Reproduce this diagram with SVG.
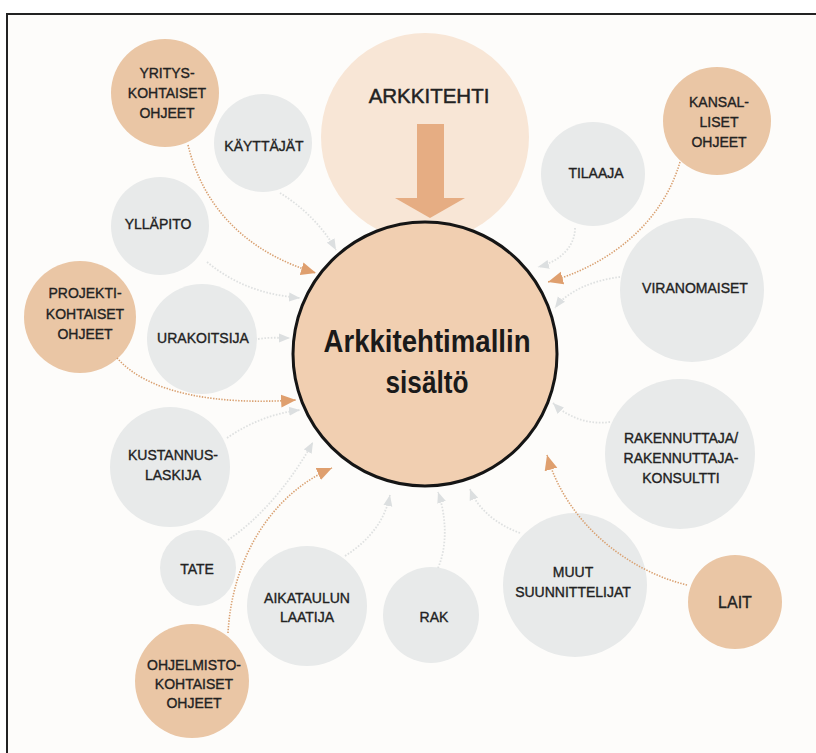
<svg xmlns="http://www.w3.org/2000/svg" width="816" height="753" viewBox="0 0 816 753">
<defs>
<style>
.bg{fill:#fdfcfa;stroke:#222;stroke-width:2}
.o{fill:#eac6a5}
.g{fill:#e8eaea}
.main{fill:#f1cfb1;stroke:#151515;stroke-width:3}
.ark{fill:#f8e6d6}
.t{font-family:"Liberation Sans",Arial,sans-serif;font-size:14px;fill:#222;stroke:#222;stroke-width:0.35;text-anchor:middle}
.big{font-family:"Liberation Sans",Arial,sans-serif;font-size:31px;font-weight:bold;fill:#1a1a1a;text-anchor:middle}
.lo{fill:none;stroke:#d9a070;stroke-width:1.6;stroke-dasharray:1.4 1.4}
.lg{fill:none;stroke:#dfe1e1;stroke-width:1.8;stroke-dasharray:1.6 1.6}
</style>
<marker id="ao" markerUnits="userSpaceOnUse" markerWidth="15" markerHeight="14" viewBox="0 0 15 14" refX="15" refY="7" orient="auto"><path d="M0,0.5 L15,7 L0,13.5 Z" fill="#df9f6e"/></marker>
<marker id="ag" markerUnits="userSpaceOnUse" markerWidth="11" markerHeight="10" viewBox="0 0 11 10" refX="11" refY="5" orient="auto"><path d="M0,0.5 L11,5 L0,9.5 Z" fill="#dcdfe0"/></marker>
</defs>
<rect class="bg" x="7" y="14" width="820" height="750"/>

<g id="n-arkkitehti"><circle class="ark" cx="425" cy="137" r="104"/><text class="t" x="429" y="103" style="font-size:20.5px;stroke-width:0.45">ARKKITEHTI</text></g>
<g id="n-main"><circle class="main" cx="425" cy="354" r="132"/>
<text class="big" x="427" y="352" textLength="207" lengthAdjust="spacingAndGlyphs">Arkkitehtimallin</text>
<text class="big" x="427" y="393" textLength="83" lengthAdjust="spacingAndGlyphs">sisältö</text></g>

<g id="n-yritys"><circle class="o" cx="165" cy="93" r="54"/><text class="t" x="167" y="78">YRITYS-</text><text class="t" x="167" y="98">KOHTAISET</text><text class="t" x="167" y="118">OHJEET</text></g>
<g id="n-kayttajat"><circle class="g" cx="263" cy="143" r="49"/><text class="t" x="264" y="151">KÄYTTÄJÄT</text></g>
<g id="n-yllapito"><circle class="g" cx="160" cy="226" r="49"/><text class="t" x="158" y="229">YLLÄPITO</text></g>
<g id="n-kansal"><circle class="o" cx="717" cy="121" r="54"/><text class="t" x="719" y="107">KANSAL-</text><text class="t" x="719" y="127">LISET</text><text class="t" x="719" y="147">OHJEET</text></g>
<g id="n-tilaaja"><circle class="g" cx="593" cy="174" r="52"/><text class="t" x="596" y="178">TILAAJA</text></g>
<g id="n-viranomaiset"><circle class="g" cx="692" cy="290" r="72"/><text class="t" x="695" y="293">VIRANOMAISET</text></g>
<g id="n-projekti"><circle class="o" cx="80" cy="317" r="56"/><text class="t" x="85" y="298">PROJEKTI-</text><text class="t" x="85" y="319">KOHTAISET</text><text class="t" x="85" y="339">OHJEET</text></g>
<g id="n-urakoitsija"><circle class="g" cx="202" cy="339" r="55"/><text class="t" x="203" y="343">URAKOITSIJA</text></g>
<g id="n-kustannus"><circle class="g" cx="170" cy="467" r="60"/><text class="t" x="173" y="460">KUSTANNUS-</text><text class="t" x="173" y="480">LASKIJA</text></g>
<g id="n-rakennuttaja"><circle class="g" cx="680" cy="454" r="75"/><text class="t" x="681" y="443">RAKENNUTTAJA/</text><text class="t" x="681" y="463">RAKENNUTTAJA-</text><text class="t" x="681" y="483">KONSULTTI</text></g>
<g id="n-tate"><circle class="g" cx="198" cy="568" r="38"/><text class="t" x="197" y="574">TATE</text></g>
<g id="n-aikataulun"><circle class="g" cx="307" cy="606" r="60"/><text class="t" x="307" y="603">AIKATAULUN</text><text class="t" x="307" y="622">LAATIJA</text></g>
<g id="n-rak"><circle class="g" cx="431" cy="615" r="48"/><text class="t" x="434" y="622">RAK</text></g>
<g id="n-muut"><circle class="g" cx="575" cy="585" r="72"/><text class="t" x="573" y="577">MUUT</text><text class="t" x="573" y="597">SUUNNITTELIJAT</text></g>
<g id="n-lait"><circle class="o" cx="735" cy="602" r="47"/><text class="t" x="735" y="608" style="font-size:16px">LAIT</text></g>
<g id="n-ohjelmisto"><circle class="o" cx="192" cy="681" r="57"/><text class="t" x="194" y="670">OHJELMISTO-</text><text class="t" x="194" y="689">KOHTAISET</text><text class="t" x="194" y="708">OHJEET</text></g>

<g id="connectors">
<path d="M417,124 H444 V198 H465 L430,218 L395,198 H417 Z" fill="#e6ad83"/>
<path class="lo" marker-end="url(#ao)" d="M188,145 C205,215 255,255 316,273"/>
<path class="lg" marker-end="url(#ag)" d="M280,193 C300,205 322,225 336,250"/>
<path class="lg" marker-end="url(#ag)" d="M207,262 C235,285 265,295 300,298"/>
<path class="lo" marker-end="url(#ao)" d="M117,358 C150,395 220,405 296,400"/>
<path class="lg" marker-end="url(#ag)" d="M258,339 C270,337 280,338 290,338"/>
<path class="lg" marker-end="url(#ag)" d="M227,438 C250,422 275,413 300,410"/>
<path class="lg" marker-end="url(#ag)" d="M228,540 C265,515 295,475 313,442"/>
<path class="lo" marker-end="url(#ao)" d="M228,633 C232,560 270,495 332,468"/>
<path class="lg" marker-end="url(#ag)" d="M345,556 C370,540 385,520 390,495"/>
<path class="lg" marker-end="url(#ag)" d="M438,568 C448,545 446,515 438,492"/>
<path class="lg" marker-end="url(#ag)" d="M520,533 C498,525 478,510 470,489"/>
<path class="lg" marker-end="url(#ag)" d="M610,422 C590,425 568,418 553,403"/>
<path class="lo" marker-end="url(#ao)" d="M687,585 C625,570 565,520 547,455"/>
<path class="lg" marker-end="url(#ag)" d="M620,277 C595,280 568,290 555,308"/>
<path class="lo" marker-end="url(#ao)" d="M680,162 C660,230 600,268 548,282"/>
<path class="lg" marker-end="url(#ag)" d="M575,228 C575,248 558,262 538,267"/>
</g>
</svg>
